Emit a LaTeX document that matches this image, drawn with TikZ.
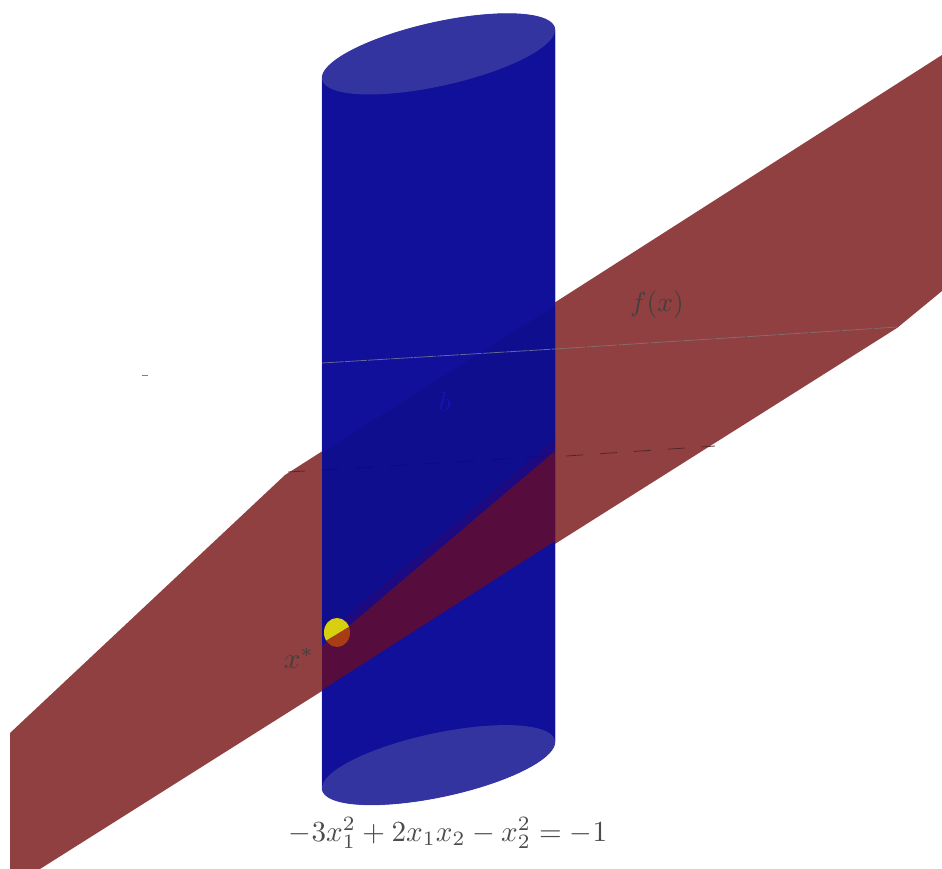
\documentclass[tikz,border=0pt]{standalone}
\usepackage{xcolor}
\definecolor{planered}{HTML}{904040}
\definecolor{cylblue}{HTML}{10109A}
\definecolor{cylblueplane}{HTML}{0E0E8E}
\definecolor{capblue}{HTML}{3434A0}
\definecolor{edgelilac}{HTML}{C4C4F0}
\definecolor{wedgemaroon}{HTML}{560C3C}
\definecolor{wedgepurple}{HTML}{1E0A80}
\definecolor{ballyellow}{HTML}{D6D010}
\definecolor{ballbrown}{HTML}{A83C14}
\definecolor{labelblue}{HTML}{1414B4}
\usetikzlibrary{calc}
\newcommand{\cylbody}{(322,78) -- (322,788)
  -- plot[domain=180:360, samples=40] ({438.5+116.5*cos(\x)},{765-23*cos(\x)-32.6*sin(\x)})
  -- (555,30)
  -- plot[domain=0:180, samples=40] ({438.5+116.5*cos(\x)},{54-24*cos(\x)-32.6*sin(\x)}) -- cycle}

\begin{document}
\begin{tikzpicture}[
      x=1pt, y=-1pt,
      lbl/.style={transform shape, scale=2.75, inner sep=0pt},
      capface/.style={fill=capblue, draw=none},
      guide/.style={line width=0.8pt},
    ]
    \useasboundingbox (0,0) rectangle (942,869);
    % cylinder edge, under the plane
    \draw[edgelilac, line width=1pt] \cylbody;
    % plane
    \fill[planered] (10,733) -- (285,475) -- (942,55) -- (942,291) -- (897,328) -- (40,869) -- (10,869) -- cycle;
    % cylinder
    \fill[cylblue] \cylbody;
    \fill[cylblueplane] (322,453) -- (555,306) -- (555,441) -- (345,617) -- (322,640) -- cycle;
    % overlap
    \fill[wedgepurple] (343,619) -- (555,439) -- (555,453) -- (350,625) -- cycle;
    \fill[wedgemaroon] (322,646) -- (350,625) -- (555,451) -- (555,541) -- (322,690) -- cycle;
    % caps
    \fill[capface] plot[domain=0:360, samples=80] ({438.5+116.5*cos(\x)},{54-24*cos(\x)-32.6*sin(\x)}) -- cycle;
    \fill[capface] plot[domain=0:360, samples=80] ({438.5+116.5*cos(\x)},{765-23*cos(\x)-32.6*sin(\x)}) -- cycle;
    % point
    \fill[ballbrown] (337,632.5) ellipse[x radius=13, y radius=14.5];
    \begin{scope}
      \clip (322,643) -- (350,626) -- (350,610) -- (322,610) -- cycle;
      \fill[ballyellow] (337,632.5) ellipse[x radius=13, y radius=14.5];
    \end{scope}
    % lines
    \draw[guide, draw=gray!80!blue, dash pattern=on 22pt off 1pt] (322,363) -- (555,349);
    \draw[guide, draw=gray!70!planered, dash pattern=on 30pt off 2pt] (555,349) -- (898,327);
    \draw[guide, draw=planered!60!black, dash pattern=on 17pt off 17pt] (288,472) -- (322,470);
    \draw[guide, draw=cylblueplane!85!black, dash pattern=on 17pt off 17pt] (322,470) -- (555,456);
    \draw[guide, draw=planered!60!black, dash pattern=on 17pt off 17pt] (566,456) -- (715,446);
    \draw[line width=0.8pt, gray] (142,375) -- (148,375);
    % labels
    \node[lbl, text=black!75] (fx) at (657,305) {$f(x)$};
    \node[lbl, text=black!75, scale=1.06] (xstar) at (299,658) {$x^*$};
    \node[lbl, text=labelblue] (bl) at (445,402) {$b$};
    \node[lbl, text=black!70, scale=1.06] (eqn) at (448,833) {$-3x_1^2+2x_1x_2-x_2^2=-1$};
  \end{tikzpicture}
\end{document}
